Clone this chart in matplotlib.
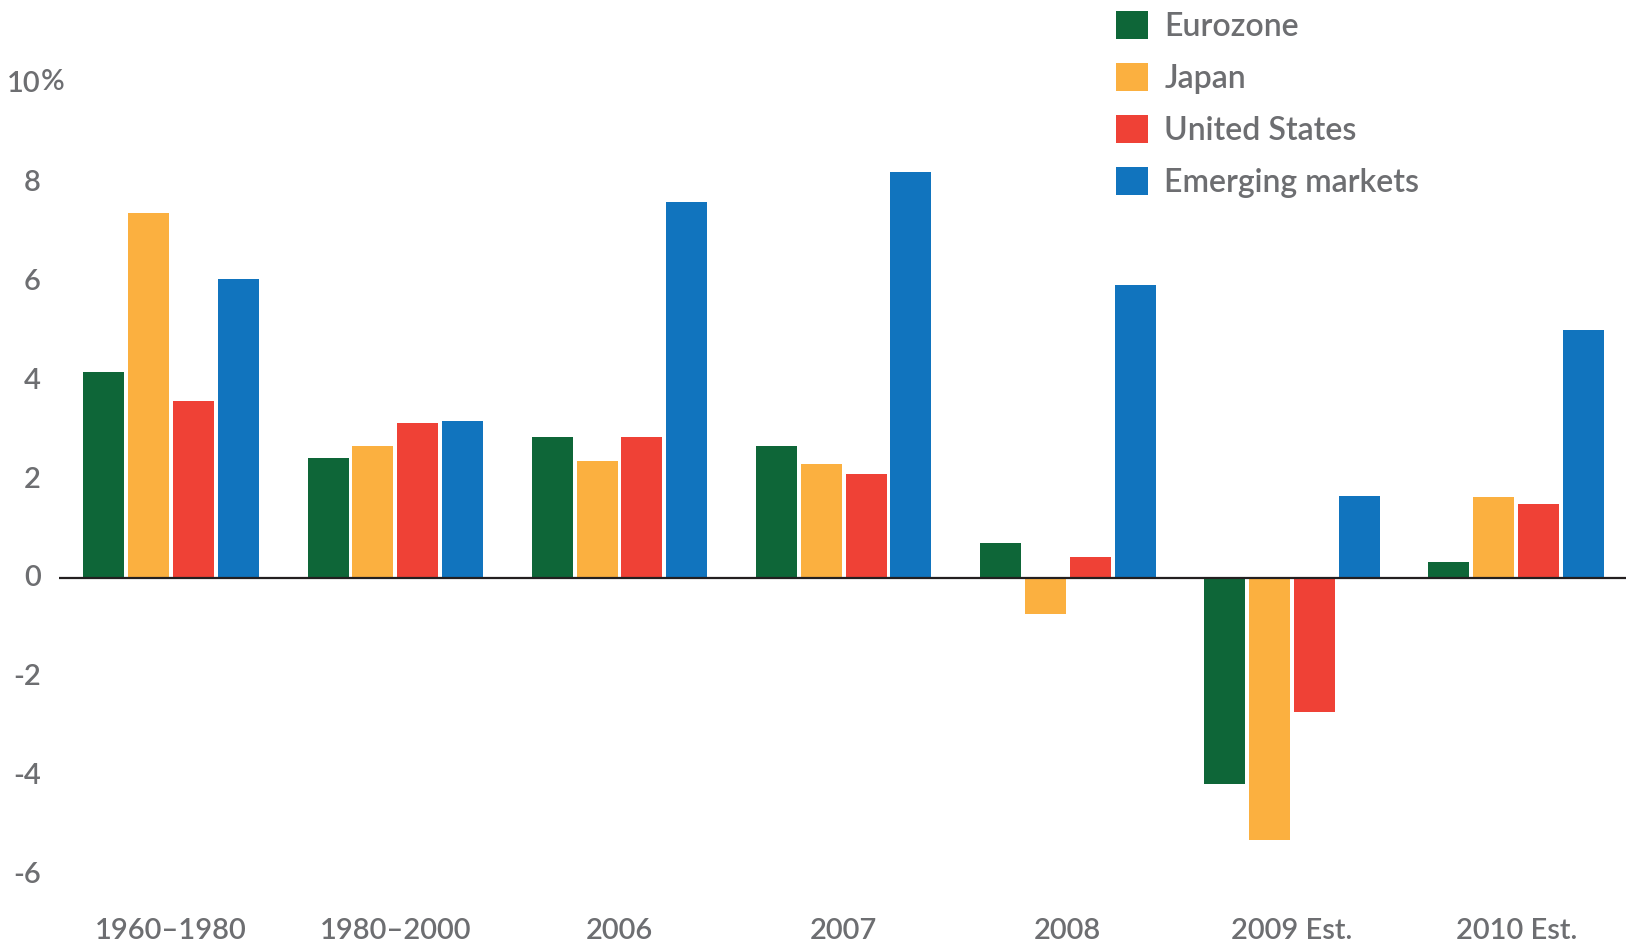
import matplotlib
matplotlib.use("Agg")
import numpy as np
import matplotlib.pyplot as plt
from matplotlib.patches import Patch
from matplotlib.transforms import ScaledTranslation

plt.rcParams.update({"font.family": "Lato", "font.size": 21, "font.weight": "semibold"})

GREEN = "#0e6638"; ORANGE = "#fbb040"; RED = "#ef4136"; BLUE = "#1174be"
GREY = "#6d6e71"

periods = ["1960–1980", "1980–2000", "2006", "2007", "2008", "2009 Est.", "2010 Est."]
regions = ["Eurozone", "Japan", "United States", "Emerging markets"]
eurozone = [4.16, 2.42, 2.86, 2.67, 0.71, -4.18, 0.32]
japan = [7.39, 2.67, 2.37, 2.31, -0.74, -5.31, 1.64]
us = [3.59, 3.13, 2.86, 2.10, 0.42, -2.71, 1.49]
emerging = [6.05, 3.17, 7.60, 8.21, 5.92, 1.66, 5.02]
y_ticks = [10, 8, 6, 4, 2, 0, -2, -4, -6]

series = [eurozone, japan, us, emerging]
colors = [GREEN, ORANGE, RED, BLUE]

fig = plt.figure(figsize=(16.26, 9.43), dpi=100)
ax = fig.add_axes([59 / 1626, 53 / 943, 1 - 59 / 1626, 890 / 943])

x = np.arange(len(periods))
w = 0.183
for i, (vals, col) in enumerate(zip(series, colors)):
    ax.bar(x + (i - 1.5) * 0.2, vals, w, color=col, label=regions[i], zorder=2)

ax.axhline(0, color="#231f20", lw=1.6, zorder=3)
ax.set_xlim(-0.5, 6.49)
ax.set_ylim(-6.32, 11.7)

for s in ax.spines.values():
    s.set_visible(False)
ax.set_yticks(y_ticks)
ax.set_yticklabels([str(t) for t in y_ticks])
ax.tick_params(axis="y", length=0, pad=13, labelcolor=GREY, labelsize=21)
ax.set_xticks(x)
ax.set_xticklabels(periods)
ax.tick_params(axis="x", length=0, pad=20, labelcolor=GREY, labelsize=21)
# nudge the y labels up a touch
up = ScaledTranslation(0, 2 / 100, fig.dpi_scale_trans)
for lab in ax.get_yticklabels():
    lab.set_transform(lab.get_transform() + up)
# percent sign hangs to the right of the top label
ax.annotate("%", xy=(0, 10), xycoords=("axes fraction", "data"),
            xytext=(-13, 1.5), textcoords="offset points",
            ha="left", va="center", color=GREY, fontsize=21,
            annotation_clip=False)

handles = [Patch(facecolor=c, label=r) for c, r in zip(colors, regions)]
ax.legend(handles=handles, loc="upper left", bbox_to_anchor=(1102 / 1626, 1.004),
          bbox_transform=fig.transFigure, frameon=False, fontsize=23,
          handlelength=1.0, handleheight=1.0, handletextpad=0.5,
          labelspacing=0.65, labelcolor=GREY, borderaxespad=0.05)

fig.savefig("out.png", dpi=100, facecolor="white")
